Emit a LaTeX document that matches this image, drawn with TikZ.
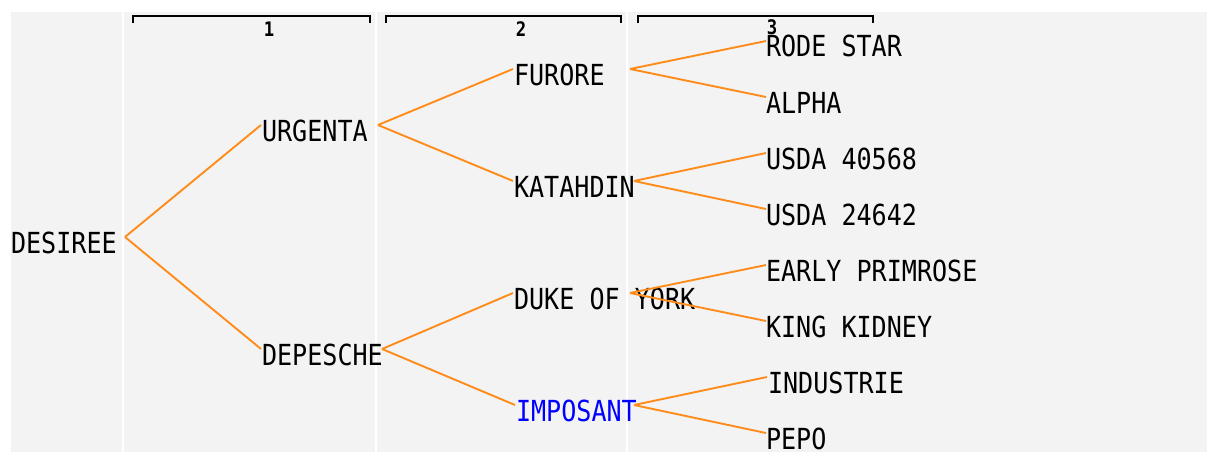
\documentclass[tikz,border=0pt]{standalone}
\usepackage{fontspec}
\newfontfamily\pix[FakeStretch=0.865]{DejaVu Sans Mono}
\definecolor{bgray}{HTML}{F3F3F3}
\definecolor{edgeor}{HTML}{FF8C1A}
\begin{document}
\begin{tikzpicture}[x=1pt,y=-1pt,
  every node/.style={inner sep=0pt,outer sep=0pt},
  lbl/.style={anchor=base west,font=\pix\fontsize{29}{29}\selectfont,text=black},
  colnum/.style={anchor=base,font=\pix\bfseries\fontsize{20}{20}\selectfont,text=black},
  sep/.style={white,line width=2pt},
  brk/.style={black,line width=2.5pt},
  tick/.style={black,line width=2pt},
  edge/.style={edgeor,line width=1.9pt}]
\useasboundingbox (0,0) rectangle (1207,452);
\fill[white] (0,0) rectangle (1207,452);
\fill[bgray] (11,12) rectangle (1207,452);
% column separators
\draw[sep] (123,12) -- (123,452);
\draw[sep] (376,12) -- (376,452);
\draw[sep] (627,12) -- (627,452);
% brackets
\draw[brk] (132,16) -- (371,16);
\draw[tick] (133,15) -- (133,23);
\draw[tick] (370,15) -- (370,23);
\draw[brk] (385,16) -- (622,16);
\draw[tick] (386,15) -- (386,23);
\draw[tick] (621,15) -- (621,23);
\draw[brk] (637,16) -- (874,16);
\draw[tick] (638,15) -- (638,23);
\draw[tick] (873,15) -- (873,23);
\node[colnum] (c1) at (269,37) {1};
\node[colnum] (c2) at (521,37) {2};
\node[colnum] (c3) at (772,35) {3};
% nodes
\node[lbl] (desiree) at (11,253) {DESIREE};
\node[lbl] (urgenta) at (262,141) {URGENTA};
\node[lbl] (depesche) at (262,365) {DEPESCHE};
\node[lbl] (furore) at (514,85) {FURORE};
\node[lbl] (katahdin) at (514,197) {KATAHDIN};
\node[lbl] (duke) at (514,309) {DUKE OF YORK};
\node[lbl,text=blue] (imposant) at (516,421) {IMPOSANT};
\node[lbl] (rode) at (766,57) {RODE STAR};
\node[lbl] (alpha) at (766,113) {ALPHA};
\node[lbl] (usdaa) at (766,169) {USDA 40568};
\node[lbl] (usdab) at (766,225) {USDA 24642};
\node[lbl] (early) at (766,281) {EARLY PRIMROSE};
\node[lbl] (king) at (766,337) {KING KIDNEY};
\node[lbl] (industrie) at (768,393) {INDUSTRIE};
\node[lbl] (pepo) at (766,449) {PEPO};
% attach points
\coordinate (desiree-r) at (125,237);
\coordinate (urgenta-l) at (261,125);
\coordinate (depesche-l) at (261,349);
\coordinate (urgenta-r) at (378,125);
\coordinate (depesche-r) at (382,349);
\coordinate (furore-l) at (513,69);
\coordinate (katahdin-l) at (513,181);
\coordinate (duke-l) at (513,293);
\coordinate (imposant-l) at (515,405);
\coordinate (furore-r) at (630,69);
\coordinate (katahdin-r) at (634,181);
\coordinate (duke-r) at (630,293);
\coordinate (imposant-r) at (634,405);
\coordinate (rode-l) at (766,41);
\coordinate (alpha-l) at (766,97);
\coordinate (usdaa-l) at (766,153);
\coordinate (usdab-l) at (766,209);
\coordinate (early-l) at (766,265);
\coordinate (king-l) at (766,321);
\coordinate (industrie-l) at (767,377);
\coordinate (pepo-l) at (766,433);
% edges
\draw[edge] (desiree-r) -- (urgenta-l);
\draw[edge] (desiree-r) -- (depesche-l);
\draw[edge] (urgenta-r) -- (furore-l);
\draw[edge] (urgenta-r) -- (katahdin-l);
\draw[edge] (depesche-r) -- (duke-l);
\draw[edge] (depesche-r) -- (imposant-l);
\draw[edge] (furore-r) -- (rode-l);
\draw[edge] (furore-r) -- (alpha-l);
\draw[edge] (katahdin-r) -- (usdaa-l);
\draw[edge] (katahdin-r) -- (usdab-l);
\draw[edge] (duke-r) -- (early-l);
\draw[edge] (duke-r) -- (king-l);
\draw[edge] (imposant-r) -- (industrie-l);
\draw[edge] (imposant-r) -- (pepo-l);
\end{tikzpicture}
\end{document}
